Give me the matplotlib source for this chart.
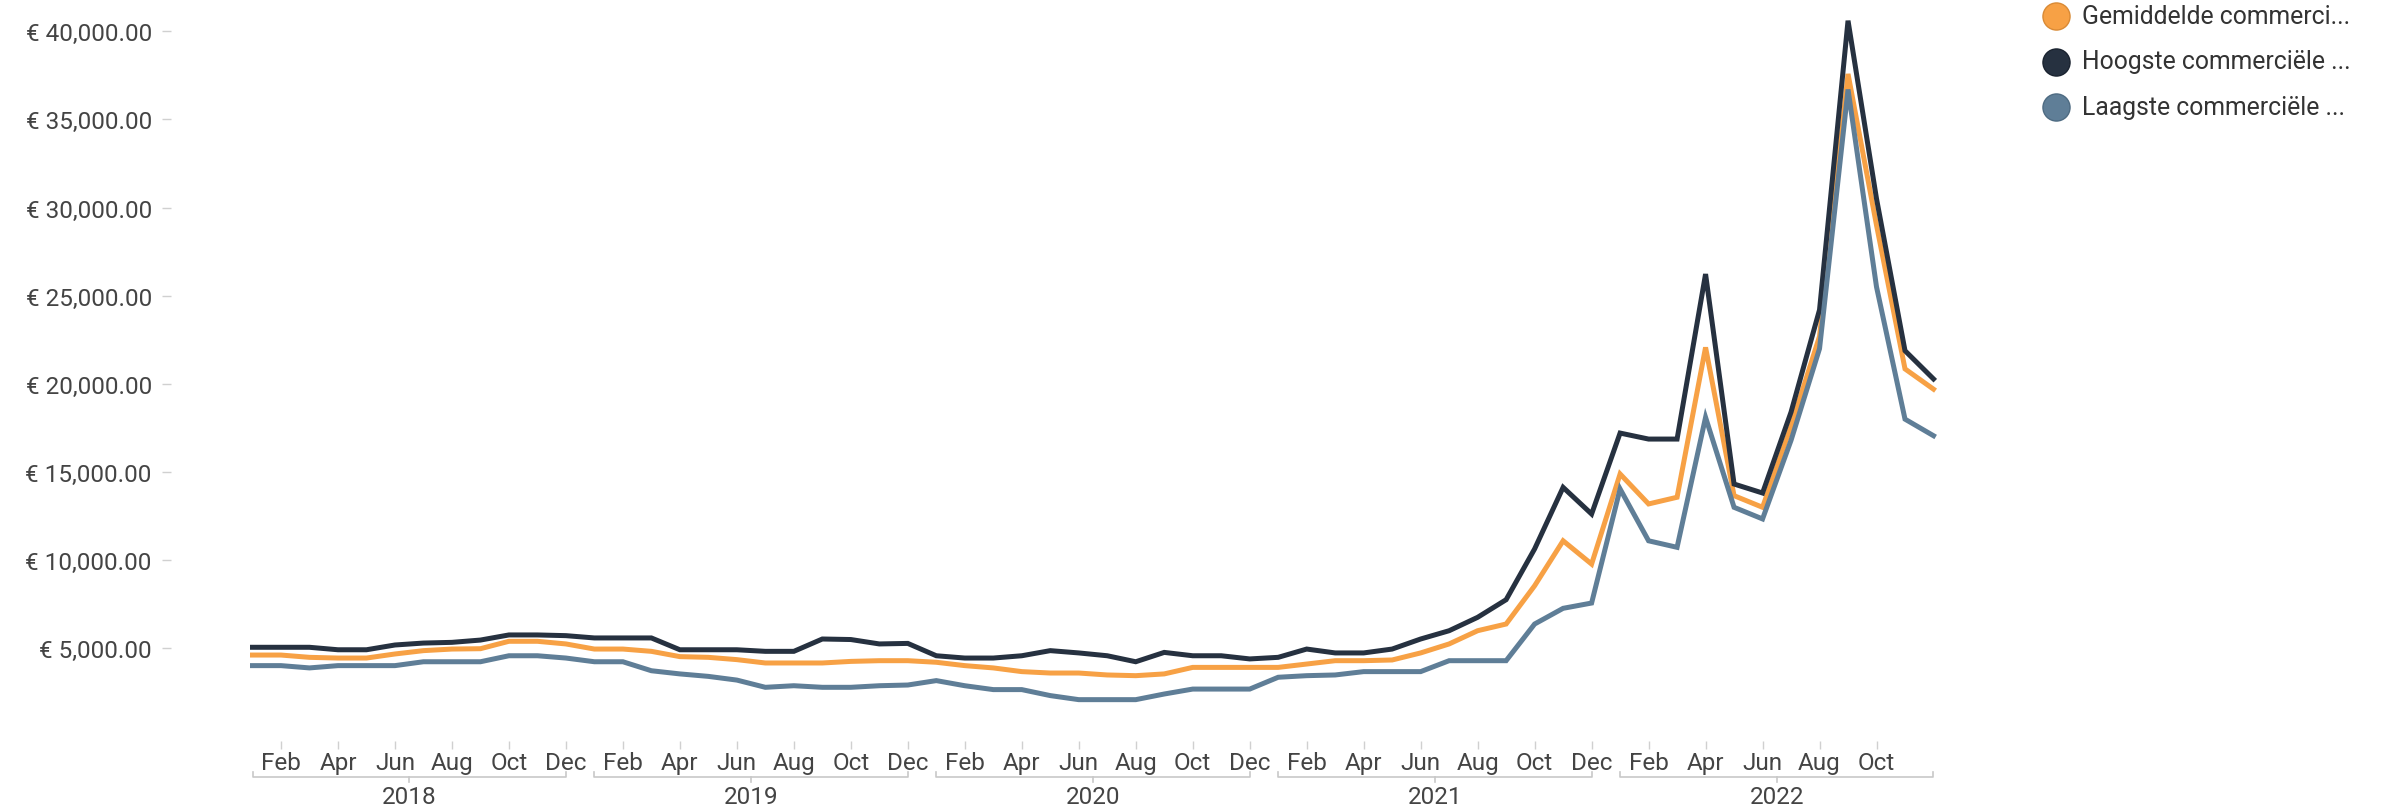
import numpy as np
import matplotlib.pyplot as plt
from matplotlib import transforms
from matplotlib.lines import Line2D

plt.rcParams['font.family'] = ['Roboto', 'DejaVu Sans']

# maandelijkse waarden jan 2018 - dec 2022 (euro)
years = [2018, 2019, 2020, 2021, 2022]
month_labels = ['Feb', 'Apr', 'Jun', 'Aug', 'Oct', 'Dec']

gemiddelde = [4620, 4620, 4490, 4450, 4450, 4680, 4870, 4960, 4980, 5400, 5400, 5250,
              4960, 4960, 4830, 4530, 4490, 4360, 4170, 4170, 4170, 4260, 4300, 4300,
              4210, 4020, 3890, 3680, 3600, 3600, 3490, 3450, 3550, 3920, 3920, 3920,
              3920, 4110, 4300, 4300, 4340, 4740, 5250, 6000, 6380, 8550, 11100, 9780,
              14890, 13190, 13570, 22070, 13660, 13000, 17600, 22700, 37580, 29000, 20850, 19700]
hoogste = [5060, 5060, 5060, 4920, 4920, 5190, 5300, 5340, 5470, 5760, 5760, 5720,
           5590, 5590, 5590, 4920, 4920, 4920, 4830, 4830, 5530, 5500, 5250, 5280,
           4580, 4450, 4450, 4580, 4870, 4740, 4580, 4240, 4770, 4580, 4580, 4400,
           4490, 4960, 4740, 4740, 4960, 5530, 6000, 6760, 7760, 10640, 14130, 12620,
           17210, 16870, 16870, 26230, 14320, 13810, 18400, 24200, 40600, 30500, 21880, 20280]
laagste = [4020, 4020, 3890, 4020, 4020, 4020, 4240, 4240, 4240, 4580, 4580, 4450,
           4240, 4240, 3730, 3550, 3410, 3200, 2790, 2880, 2790, 2790, 2880, 2920,
           3170, 2880, 2660, 2660, 2320, 2090, 2090, 2090, 2410, 2690, 2690, 2690,
           3360, 3450, 3490, 3680, 3680, 3680, 4300, 4300, 4300, 6380, 7270, 7570,
           14040, 11100, 10730, 18100, 13000, 12340, 16800, 22000, 36700, 25500, 18000, 17060]

names = ['Gemiddelde commerci...', 'Hoogste commerciële ...', 'Laagste commerciële ...']
colors = ['#F7A145', '#263140', '#5F7E97']
edges = ['#D98A35', '#1A2330', '#4E6B82']

x = np.arange(len(gemiddelde))
W, H = 2386, 812
label_fs = 17.5

fig = plt.figure(figsize=(W / 100, H / 100), dpi=100)
ax = fig.add_axes([252.5 / W, 74.5 / H, 1681 / W, 737.5 / H])

for vals, c in zip([gemiddelde, hoogste, laagste], colors):
    ax.plot(x, vals, color=c, lw=3.6, clip_on=False, solid_joinstyle='miter')

ax.set_xlim(0, len(x) - 1)
ax.set_ylim(0, 41830)
for s in ax.spines.values():
    s.set_visible(False)

# y-as
ax.spines['left'].set_position(('outward', 59))
yt = np.arange(5000, 40001, 5000)
ax.set_yticks(yt)
ax.set_yticklabels([f'€ {v:,.2f}' for v in yt])
ax.tick_params(axis='y', length=6.5, width=1, color='#d0d0d0', pad=7,
               labelsize=label_fs, labelcolor='#444444')

# x-as: maanden
ax.spines['bottom'].set_position(('outward', 3))
xt = [i for i in x if i % 2 == 1 and i < len(x) - 1]
ax.set_xticks(xt)
ax.set_xticklabels([month_labels[(i % 12) // 2] for i in xt])
ax.tick_params(axis='x', length=6, width=1, color='#d0d0d0', pad=1.5,
               labelsize=label_fs, labelcolor='#444444')

# jaar-haken
trans = transforms.blended_transform_factory(ax.transData, fig.transFigure)
yb = 1 - 778 / H
for k, yr in enumerate(years):
    x0, x1 = 12 * k, min(12 * k + 11, len(x) - 1)
    ax.plot([x0, x0, x1, x1], [yb + 5 / H, yb, yb, yb + 5 / H], color='#c8c8c8',
            lw=1.2, transform=trans, clip_on=False)
    xm = (x0 + x1) / 2
    ax.plot([xm, xm], [yb, yb - 5 / H], color='#c8c8c8', lw=1.2,
            transform=trans, clip_on=False)
    ax.text(xm, 1 - 798 / H, str(yr), transform=trans, ha='center', va='center',
            fontsize=label_fs, color='#444444')

# legenda
for j, (name, c, e) in enumerate(zip(names, colors, edges)):
    yy = 1 - (17 + 45.5 * j) / H
    fig.add_artist(Line2D([2056 / W], [yy], marker='o', markersize=19.5,
                          markerfacecolor=c, markeredgecolor=e, markeredgewidth=1,
                          linestyle='', transform=fig.transFigure))
    fig.text(2082 / W, yy, name, ha='left', va='center', fontsize=17.8, color='#333333')

fig.savefig('out.png', dpi=100, facecolor='white')
